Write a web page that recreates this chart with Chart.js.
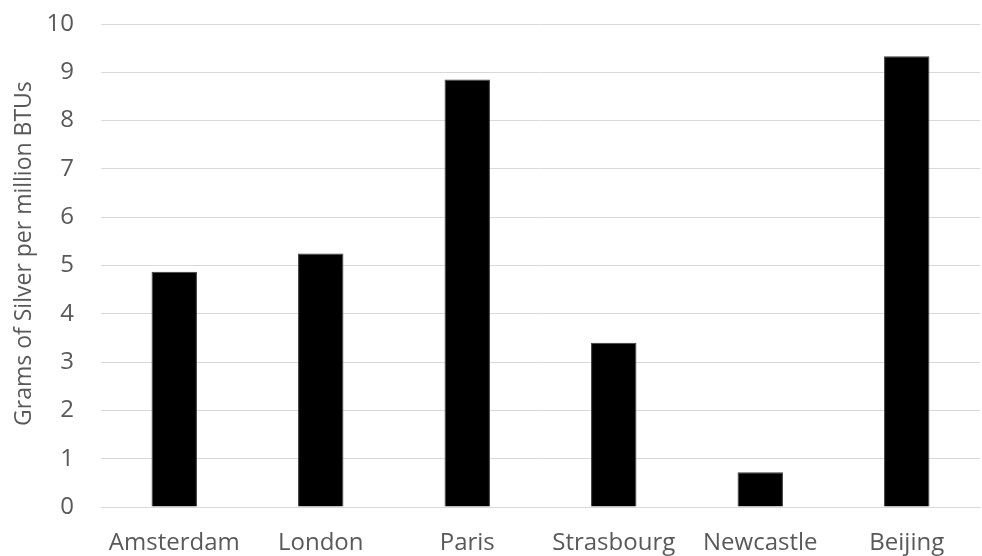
<!DOCTYPE html>
<html>
<head>
<meta charset="utf-8">
<script src="https://cdn.jsdelivr.net/npm/chart.js@4"></script>
<style>
  html, body { margin: 0; padding: 0; background: #fff; }
  #wrap { width: 982px; height: 556px; }
</style>
</head>
<body>
<div id="wrap"><canvas id="grafik" width="982" height="556"></canvas></div>
<script>
const cities = ["Amsterdam", "London", "Paris", "Strasbourg", "Newcastle", "Beijing"];
const silverPerMBtu = [4.87, 5.25, 8.85, 3.40, 0.72, 9.33];
const yTicks = [0, 1, 2, 3, 4, 5, 6, 7, 8, 9, 10];

const font = "'Open Sans', Lato, sans-serif";
const textColor = "#595959";

const ctx = document.getElementById("grafik").getContext("2d");
new Chart(ctx, {
  type: "bar",
  data: {
    labels: cities,
    datasets: [{
      data: silverPerMBtu,
      backgroundColor: "#000000",
      borderColor: "#3a3a3a",
      borderWidth: 1,
      barPercentage: 0.62,
      categoryPercentage: 0.5
    }]
  },
  options: {
    responsive: false,
    animation: false,
    layout: { padding: { top: 24, right: 2, left: 0, bottom: 0 } },
    plugins: { legend: { display: false }, tooltip: { enabled: false } },
    scales: {
      x: {
        grid: { display: false, drawTicks: false },
        border: { display: true, color: "#d9d9d9", width: 1 },
        ticks: { color: textColor, font: { family: font, size: 24 }, padding: 22, maxRotation: 0 },
        afterFit: s => { s.height = 49; s.paddingLeft = 0; s.paddingRight = 0; }
      },
      y: {
        min: 0,
        max: 10,
        afterBuildTicks: s => { s.ticks = yTicks.map(v => ({ value: v })); },
        grid: { color: "#d9d9d9", lineWidth: 1, drawTicks: false },
        border: { display: false },
        ticks: { color: textColor, font: { family: font, size: 24 }, padding: 27 },
        title: {
          display: true,
          // leading spaces nudge the rotated title upward like the original
          text: "    Grams of Silver per million BTUs",
          color: textColor,
          font: { family: font, size: 23 },
          padding: { top: 11, bottom: 0 }
        },
        afterFit: s => { s.width = 101; s.paddingTop = 0; s.paddingBottom = 0; }
      }
    }
  }
});
</script>
</body>
</html>
